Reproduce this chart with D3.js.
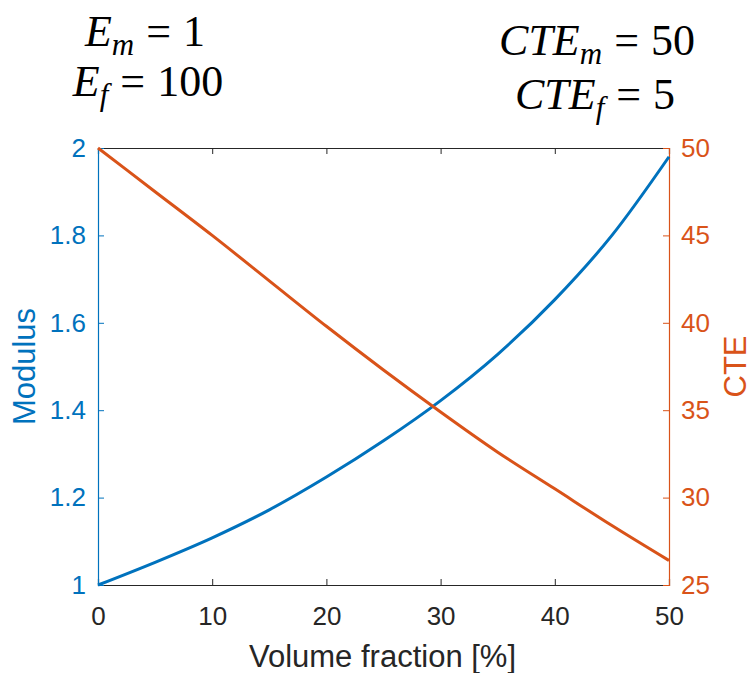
<!DOCTYPE html>
<html>
<head>
<meta charset="utf-8">
<script src="https://cdn.jsdelivr.net/npm/d3@7"></script>
<style>
  body { margin: 0; background: #fff; }
  svg text { font-family: "Liberation Sans", Arial, sans-serif; }
  .eq { font-family: "Liberation Serif", "Times New Roman", serif; font-size: 44px; fill: #000; }
</style>
</head>
<body>
<svg width="753" height="673"></svg>
<script>
// volume fraction [%]
var fraction = [0, 5, 10, 15, 20, 25, 30, 35, 40, 45, 50];
// modulus (left axis)
var modulus = [1.00, 1.052, 1.108, 1.172, 1.247, 1.330, 1.422, 1.528, 1.653, 1.800, 1.980];
// CTE (right axis)
var cte = [50.0, 47.5, 45.0, 42.4, 39.8, 37.3, 34.9, 32.6, 30.5, 28.4, 26.4];

var xTicks = [0, 10, 20, 30, 40, 50];
var modTicks = [1, 1.2, 1.4, 1.6, 1.8, 2];
var cteTicks = [25, 30, 35, 40, 45, 50];

var blue = "#0072BD", orange = "#D95319", dark = "#262626";

var svg = d3.select("svg"),
    margin = {top: 148, right: 84, bottom: 88, left: 98},
    width = 753 - margin.left - margin.right,
    height = 673 - margin.top - margin.bottom;

var x = d3.scaleLinear().domain([0, 50]).range([0, width]);
var yL = d3.scaleLinear().domain([1, 2]).range([height, 0]);
var yR = d3.scaleLinear().domain([25, 50]).range([height, 0]);

var g = svg.append("g")
  .attr("transform", "translate(" + margin.left + "," + margin.top + ")");

// bottom + top axes
var xAxis = g.append("g")
  .attr("transform", "translate(0," + height + ")")
  .call(d3.axisBottom(x).tickValues(xTicks).tickSize(-6).tickPadding(22));
xAxis.selectAll("text").attr("fill", dark).style("font-size", "26px");

var xTop = g.append("g")
  .call(d3.axisTop(x).tickValues(xTicks).tickSize(-6).tickFormat(""));

[xAxis, xTop].forEach(function(a) {
  a.select(".domain").attr("stroke", dark).attr("stroke-width", 1.2);
  a.selectAll(".tick line").attr("stroke", dark);
});

// left axis: modulus
var left = g.append("g")
  .call(d3.axisLeft(yL).tickValues(modTicks).tickSize(-6).tickPadding(12).tickFormat(d3.format("")));
left.select(".domain").attr("stroke", blue).attr("stroke-width", 1.2);
left.selectAll(".tick line").attr("stroke", blue);
left.selectAll("text").attr("fill", blue).style("font-size", "26px");

// right axis: CTE
var right = g.append("g")
  .attr("transform", "translate(" + width + ",0)")
  .call(d3.axisRight(yR).tickValues(cteTicks).tickSize(-6).tickPadding(12));
right.select(".domain").attr("stroke", orange).attr("stroke-width", 1.2);
right.selectAll(".tick line").attr("stroke", orange);
right.selectAll("text").attr("fill", orange).style("font-size", "26px");

// lines
var modLine = d3.line()
  .x(function(d, i) { return x(fraction[i]); })
  .y(function(d) { return yL(d); })
  .curve(d3.curveMonotoneX);

var cteLine = d3.line()
  .x(function(d, i) { return x(fraction[i]); })
  .y(function(d) { return yR(d); })
  .curve(d3.curveMonotoneX);

g.append("path").datum(modulus)
  .attr("fill", "none").attr("stroke", blue).attr("stroke-width", 3)
  .attr("d", modLine);

g.append("path").datum(cte)
  .attr("fill", "none").attr("stroke", orange).attr("stroke-width", 3)
  .attr("d", cteLine);

// axis titles
svg.append("text")
  .attr("x", margin.left + width / 2 - 1).attr("y", 667)
  .attr("text-anchor", "middle").attr("fill", dark)
  .style("font-size", "31px")
  .text("Volume fraction [%]");

svg.append("text")
  .attr("transform", "translate(35," + (margin.top + height / 2) + ") rotate(-90)")
  .attr("text-anchor", "middle").attr("fill", blue)
  .style("font-size", "31px")
  .text("Modulus");

svg.append("text")
  .attr("transform", "translate(746," + (margin.top + height / 2) + ") rotate(-90)")
  .attr("text-anchor", "middle").attr("fill", orange)
  .style("font-size", "31px")
  .text("CTE");

// material constants
function eq(cx, y, name, sub, val) {
  var t = svg.append("text").attr("class", "eq")
    .attr("x", cx).attr("y", y).attr("text-anchor", "middle");
  t.append("tspan").style("font-style", "italic").text(name);
  t.append("tspan").style("font-style", "italic").style("font-size", "31px")
    .attr("dy", 9).text(sub);
  t.append("tspan").attr("dy", -9).attr("dx", 12).text("=");
  t.append("tspan").attr("dx", 12).text(val);
}
eq(145, 46, "E", "m", "1");
eq(148, 96, "E", "f", "100");
eq(597, 55, "CTE", "m", "50");
eq(595, 109, "CTE", "f", "5");
</script>
</body>
</html>
